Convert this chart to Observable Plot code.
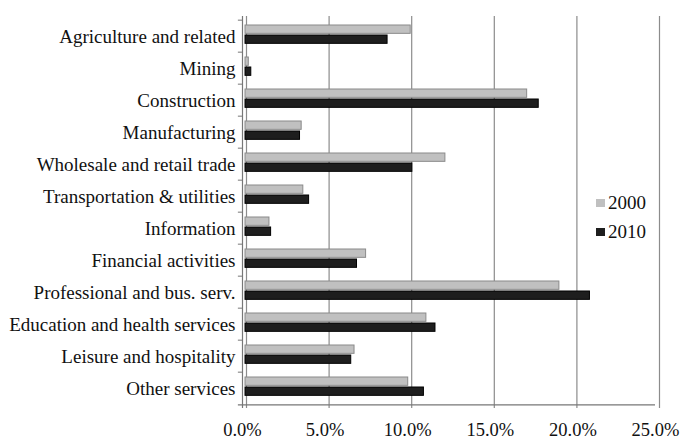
<!DOCTYPE html>
<html>
<head>
<meta charset="utf-8">
<script src="https://cdn.jsdelivr.net/npm/d3@7"></script>
<script src="https://cdn.jsdelivr.net/npm/@observablehq/plot@0.6"></script>
<style>
  html, body { margin: 0; padding: 0; background: #fff; }
  #wrap { position: relative; width: 680px; height: 439px; font-family: 'Liberation Serif', 'Times New Roman', serif; }
  #wrap svg text { font-family: 'Liberation Serif', 'Times New Roman', serif !important; }
  #legend { position: absolute; left: 596px; top: 188px; font-size: 19px; color: #111; line-height: 29px; }
  #legend .item { display: flex; align-items: center; }
  #legend .sw { width: 9px; height: 8px; margin-right: 3px; }
</style>
</head>
<body>
<div id="wrap">
  <div id="chart"></div>
  <div id="legend"></div>
</div>
<script>
const categories = [
  "Agriculture and related", "Mining", "Construction", "Manufacturing",
  "Wholesale and retail trade", "Transportation & utilities", "Information",
  "Financial activities", "Professional and bus. serv.",
  "Education and health services", "Leisure and hospitality", "Other services"
];
const years = ["2000", "2010"];
const values2000 = [10.0, 0.2, 17.05, 3.4, 12.1, 3.5, 1.45, 7.3, 19.0, 10.95, 6.6, 9.85];
const values2010 = [8.6, 0.35, 17.75, 3.3, 10.1, 3.85, 1.55, 6.75, 20.85, 11.5, 6.4, 10.8];
const xTicks = [0, 0.05, 0.10, 0.15, 0.20, 0.25];
const colors = {"2000": "#c0c0c0", "2010": "#1e1e1e"};
const edges = {"2000": "#8a8a8a", "2010": "#000000"};

const rows = [];
categories.forEach((c, i) => {
  rows.push({category: c, year: "2000", value: values2000[i] / 100});
  rows.push({category: c, year: "2010", value: values2010[i] / 100});
});
const r2000 = rows.filter(d => d.year === "2000");
const r2010 = rows.filter(d => d.year === "2010");

const band = (408 - 16) / categories.length;
const serif = "'Liberation Serif', 'Times New Roman', serif";

const chart = Plot.plot({
  width: 680,
  height: 439,
  marginLeft: 242,
  marginRight: 25,
  marginTop: 16,
  marginBottom: 31,
  style: {fontFamily: serif, fontSize: "19px", color: "#111", background: "#fff"},
  x: {domain: [0, 0.25], label: null},
  y: {domain: categories, padding: 0, label: null},
  marks: [
    Plot.gridX(xTicks, {stroke: "#8c8c8c", strokeOpacity: 1, strokeWidth: 1.2, dx: 4, y1: null}),
    Plot.barX(r2000, {x: "value", y: "category", fill: colors["2000"], stroke: edges["2000"], strokeWidth: 1, insetTop: 5, insetBottom: band - 14, dx: 3}),
    Plot.barX(r2010, {x: "value", y: "category", fill: colors["2010"], stroke: edges["2010"], strokeWidth: 1, insetTop: 15, insetBottom: band - 24, dx: 3}),
    Plot.ruleX([0], {stroke: "#777", strokeWidth: 1.2}),
    Plot.ruleY(categories, {y: d => d, x1: -0.0025, x2: 0, dy: -band / 2, stroke: "#777"}),
    Plot.ruleY([categories[categories.length - 1]], {x1: -0.0025, x2: 0.25, dy: band / 2, stroke: "#777", strokeWidth: 1.2}),
    Plot.axisX(xTicks, {tickFormat: d3.format(".1%"), tickSize: 0, tickPadding: 14, fontSize: 18.5, fontFamily: serif, label: null}),
    Plot.axisY({tickSize: 0, tickPadding: 7, fontSize: 19, fontFamily: serif, label: null})
  ]
});
document.getElementById("chart").appendChild(chart);

const legend = document.getElementById("legend");
years.forEach(y => {
  const item = document.createElement("div");
  item.className = "item";
  const sw = document.createElement("span");
  sw.className = "sw";
  sw.style.background = colors[y];
  const t = document.createElement("span");
  t.textContent = y;
  item.appendChild(sw);
  item.appendChild(t);
  legend.appendChild(item);
});
</script>
</body>
</html>
